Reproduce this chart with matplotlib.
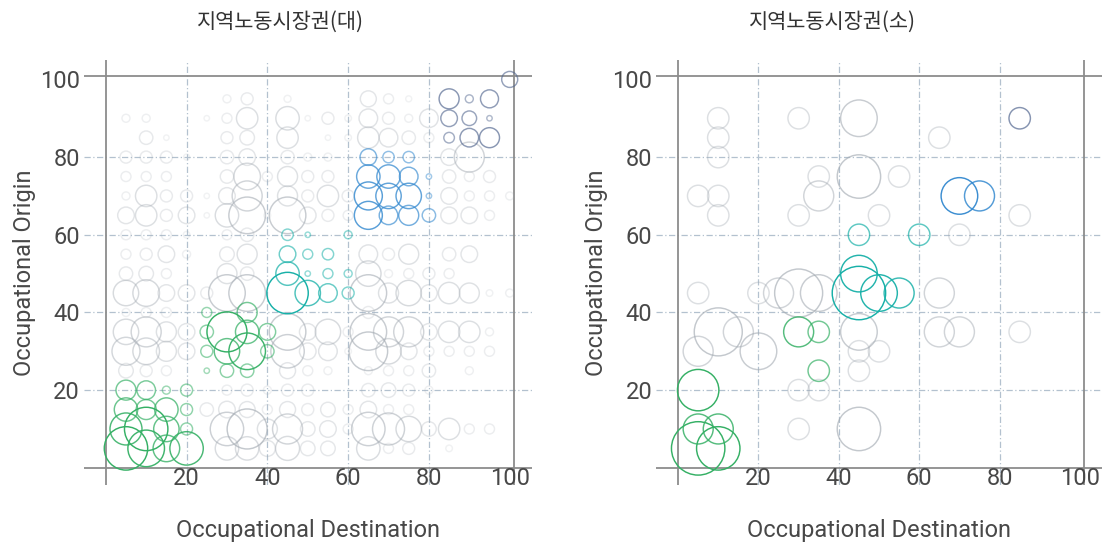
import numpy as np
import matplotlib.pyplot as plt

plt.rcParams['font.family'] = ['Noto Sans CJK KR', 'DejaVu Sans']

titles = ['지역노동시장권(대)', '지역노동시장권(소)']
x_label = 'Occupational Destination'
y_label = 'Occupational Origin'
tick_vals = [20, 40, 60, 80, 100]

# (destination, origin, bubble radius) -- large regions
large_gray = [
    (30, 95, 4), (35, 95, 6), (45, 95, 3.5), (65, 95, 8), (70, 95, 5), (75, 95, 3),
    (5, 90, 4), (10, 90, 4), (25, 90, 2.7), (30, 90, 5), (35, 90, 10.7), (45, 90, 11.7),
    (50, 90, 2.7), (55, 90, 6), (60, 90, 3.3), (65, 90, 9.3), (70, 90, 6), (75, 90, 4), (80, 90, 9.3),
    (10, 85, 6.7), (15, 85, 2.7), (30, 85, 6), (35, 85, 7.3), (45, 85, 10.7), (55, 85, 2.7),
    (60, 85, 3.3), (65, 85, 10.7), (70, 85, 9.3), (75, 85, 6.7), (80, 85, 5),
    (5, 80, 6), (10, 80, 6), (15, 80, 6), (20, 80, 3), (30, 80, 6.7), (35, 80, 8.3), (45, 80, 6.7),
    (50, 80, 4), (55, 80, 4), (85, 80, 8.3), (90, 80, 15),
    (5, 75, 5), (10, 75, 5), (15, 75, 5), (30, 75, 6.7), (35, 75, 13.3), (40, 75, 5), (45, 75, 10),
    (50, 75, 6), (55, 75, 6), (85, 75, 6.7), (90, 75, 5), (95, 75, 6),
    (5, 70, 4), (10, 70, 10.7), (15, 70, 6), (20, 70, 6), (25, 70, 2.7), (30, 70, 8.3), (35, 70, 15),
    (45, 70, 10), (50, 70, 6), (55, 70, 10.7), (60, 70, 6), (85, 70, 8.3), (90, 70, 5), (95, 70, 5), (100, 70, 4),
    (5, 65, 8.3), (10, 65, 10.7), (15, 65, 6), (20, 65, 8.3), (25, 65, 2.7), (30, 65, 11.7), (35, 65, 18.3),
    (40, 65, 3.3), (45, 65, 18.3), (50, 65, 8.3), (55, 65, 6), (60, 65, 5), (85, 65, 8.3), (90, 65, 8.3), (95, 65, 5),
    (5, 60, 5), (10, 60, 5), (15, 60, 5), (20, 60, 3.3), (30, 60, 5), (35, 60, 6.7),
    (5, 55, 5), (10, 55, 6), (15, 55, 8.3), (20, 55, 4), (30, 55, 7.3), (35, 55, 10), (65, 55, 9.3),
    (70, 55, 6), (75, 55, 10), (85, 55, 6.7), (90, 55, 8.3),
    (5, 50, 6.7), (10, 50, 7.3), (15, 50, 5), (30, 50, 10), (35, 50, 6.7), (65, 50, 12.7), (70, 50, 4),
    (75, 50, 5), (80, 50, 6), (85, 50, 5),
    (5, 45, 12.7), (10, 45, 13.3), (15, 45, 8.3), (20, 45, 8.3), (25, 45, 6), (30, 45, 18.3), (35, 45, 18.3),
    (65, 45, 18.3), (70, 45, 10), (75, 45, 12.7), (80, 45, 8.3), (85, 45, 10.7), (90, 45, 10), (95, 45, 3.3), (100, 45, 4),
    (5, 40, 4), (10, 40, 5), (15, 40, 5), (65, 40, 6),
    (5, 35, 12.7), (10, 35, 15), (15, 35, 10), (20, 35, 8.3), (45, 35, 18.3), (50, 35, 8.3), (55, 35, 12.7),
    (60, 35, 5), (65, 35, 18.3), (70, 35, 15), (75, 35, 15), (80, 35, 8.3), (85, 35, 10.7), (90, 35, 10.7), (95, 35, 4),
    (5, 30, 14), (10, 30, 13.3), (15, 30, 10), (20, 30, 8.3), (45, 30, 16.7), (50, 30, 8.3), (55, 30, 9.3),
    (60, 30, 3.3), (65, 30, 19.3), (70, 30, 12.7), (75, 30, 8.3), (80, 30, 5), (85, 30, 5), (90, 30, 5), (95, 30, 5),
    (5, 25, 7.3), (10, 25, 6), (15, 25, 5), (45, 25, 8), (50, 25, 5), (55, 25, 4), (65, 25, 4), (70, 25, 5),
    (75, 25, 5), (80, 25, 6.7), (90, 25, 4),
    (30, 20, 5), (35, 20, 6), (40, 20, 4), (45, 20, 6), (50, 20, 6), (65, 20, 6.7), (70, 20, 7.3), (75, 20, 6), (80, 20, 4),
    (25, 15, 6.7), (30, 15, 8.3), (35, 15, 8), (40, 15, 5), (45, 15, 8), (50, 15, 6), (55, 15, 7.3), (60, 15, 5),
    (65, 15, 8.3), (70, 15, 5), (75, 15, 5),
    (30, 10, 16.7), (35, 10, 20), (40, 10, 10), (45, 10, 15), (50, 10, 7.3), (55, 10, 8.3), (60, 10, 5),
    (65, 10, 16.7), (70, 10, 16), (75, 10, 12.7), (80, 10, 7.3), (85, 10, 10.7), (90, 10, 5), (95, 10, 5),
    (30, 5, 11.7), (35, 5, 11.7), (40, 5, 8), (45, 5, 12), (50, 5, 7.3), (55, 5, 7.3), (65, 5, 11.7),
    (70, 5, 5), (75, 5, 6), (85, 5, 3.3),
]
large_green = [
    (5, 20, 10), (10, 20, 9.3), (15, 20, 4), (20, 20, 6), (5, 15, 11.7), (10, 15, 10), (15, 15, 11.7),
    (20, 15, 6), (5, 10, 16), (10, 10, 21.7), (15, 10, 12.7), (20, 10, 6), (5, 5, 21.7), (10, 5, 18.3),
    (15, 5, 13.3), (20, 5, 16.7),
    (25, 40, 5), (35, 40, 10), (25, 35, 6.7), (30, 35, 20), (35, 35, 11.7), (40, 35, 8.3), (25, 30, 6),
    (30, 30, 12.7), (35, 30, 18.3), (40, 30, 6.7), (25, 25, 2.7), (30, 25, 6.7), (35, 25, 6.7),
]
large_teal = [
    (45, 60, 5.7), (50, 60, 2.7), (60, 60, 4), (45, 55, 8.3), (50, 55, 5), (55, 55, 5.7), (45, 50, 11.7),
    (50, 50, 2.7), (55, 50, 5), (60, 50, 4), (45, 45, 20.7), (50, 45, 12.7), (55, 45, 9.3), (60, 45, 6),
]
large_blue = [
    (65, 80, 8.3), (70, 80, 5.7), (75, 80, 5.7), (65, 75, 11.7), (70, 75, 11.7), (75, 75, 9.3), (80, 75, 2.7),
    (65, 70, 14), (70, 70, 12.7), (75, 70, 12.7), (80, 70, 2.7), (65, 65, 14), (70, 65, 9.3), (75, 65, 10), (80, 65, 6.7),
]
large_navy = [
    (100, 100, 8), (85, 95, 10), (90, 95, 4), (95, 95, 9), (85, 90, 8.3), (90, 90, 7.3), (95, 90, 2.7),
    (85, 85, 5.3), (90, 85, 9.3), (95, 85, 10),
]

# small regions
small_gray = [
    (10, 90, 10.7), (10, 85, 10.7), (10, 80, 10.7), (5, 70, 10.7), (10, 70, 10.7), (10, 65, 10.7),
    (30, 90, 10.7), (35, 75, 10.7), (35, 70, 15), (30, 65, 10.7), (45, 90, 18.3), (45, 75, 21.7),
    (65, 85, 10.7), (55, 75, 10.7), (50, 65, 10.7), (85, 65, 10.7), (70, 60, 10.7), (5, 45, 10.7),
    (20, 45, 10.7), (25, 45, 15), (30, 45, 24), (35, 45, 18.3), (10, 35, 24), (15, 35, 15), (5, 30, 15),
    (20, 30, 18.3), (30, 20, 10.7), (35, 20, 10.7), (30, 10, 10.7), (45, 35, 18.3), (45, 30, 10.7),
    (50, 30, 10.7), (45, 25, 10.7), (45, 10, 21.7), (65, 45, 15), (65, 35, 15), (70, 35, 15), (85, 35, 10.7),
]
small_green = [
    (5, 20, 20.7), (5, 10, 15), (10, 10, 15), (5, 5, 26.7), (10, 5, 21.7), (30, 35, 15), (35, 35, 10.7), (35, 25, 10.7),
]
small_teal = [(45, 60, 10.7), (60, 60, 10.7), (45, 50, 18.3), (45, 45, 26.7), (50, 45, 18.3), (55, 45, 15)]
small_blue = [(70, 70, 18.3), (75, 70, 15)]
small_navy = [(85, 90, 10.7)]

colors = {'gray': '#a4abb3', 'green': '#35b065', 'teal': '#17b0a8', 'blue': '#3288cf', 'navy': '#52668f'}

panels = [
    {'gray': large_gray, 'green': large_green, 'teal': large_teal, 'blue': large_blue, 'navy': large_navy},
    {'gray': small_gray, 'green': small_green, 'teal': small_teal, 'blue': small_blue, 'navy': small_navy},
]

dpi = 100
fig = plt.figure(figsize=(11.05, 5.43), dpi=dpi)
ax_pos = [[0.076, 0.107, 0.405, 0.7825], [0.594, 0.107, 0.403, 0.7825]]
title_x = [280 / 1105, 832 / 1105]
txt = '#484848'
latin = ['Roboto', 'DejaVu Sans']

for i, groups in enumerate(panels):
    ax = fig.add_axes(ax_pos[i])
    ax.set_xlim(-5.4, 105.4)
    ax.set_ylim(-4.4, 105)
    for sp in ax.spines.values():
        sp.set_visible(False)

    for v in [20, 40, 60, 80]:
        ax.axvline(v, color='#b3c1cf', lw=0.9, ls=(0, (5, 2, 1, 2)), zorder=0)
        ax.axhline(v, color='#b3c1cf', lw=0.9, ls=(0, (5, 2, 1, 2)), zorder=0)
    for v in [0, 101]:
        ax.axvline(v, color='#8c8c8c', lw=1.3, zorder=1)
        ax.axhline(v, color='#8c8c8c', lw=1.3, zorder=1)

    for name, pts in groups.items():
        arr = np.array(pts, dtype=float)
        r = arr[:, 2]
        t = np.clip((r - 3) / 17, 0, 1)
        if name == 'gray':
            alpha = 0.15 + 0.5 * t
        else:
            alpha = 0.45 + 0.55 * t
        rgba = np.array([plt.matplotlib.colors.to_rgba(colors[name], a) for a in alpha])
        s = (2 * r * 72 / dpi) ** 2
        ax.scatter(arr[:, 0], arr[:, 1], s=s, facecolors='none', edgecolors=rgba,
                   linewidths=1.05, zorder=2)

    ax.set_xticks(tick_vals)
    ax.set_yticks(tick_vals)
    ax.tick_params(length=0, labelsize=17, labelcolor=txt)
    ax.tick_params(axis='x', pad=-13)
    ax.tick_params(axis='y', pad=3)
    for lab in ax.get_xticklabels() + ax.get_yticklabels():
        lab.set_family(latin)
    ax.set_xlabel(x_label, fontsize=17, color=txt, labelpad=21, family=latin)
    ax.set_ylabel(y_label, fontsize=17, color=txt, labelpad=3, family=latin)
    fig.text(title_x[i], 1 - 22 / 543, titles[i], ha='center', va='center', fontsize=15,
             color='#333333')

fig.savefig('out.png', dpi=dpi)
